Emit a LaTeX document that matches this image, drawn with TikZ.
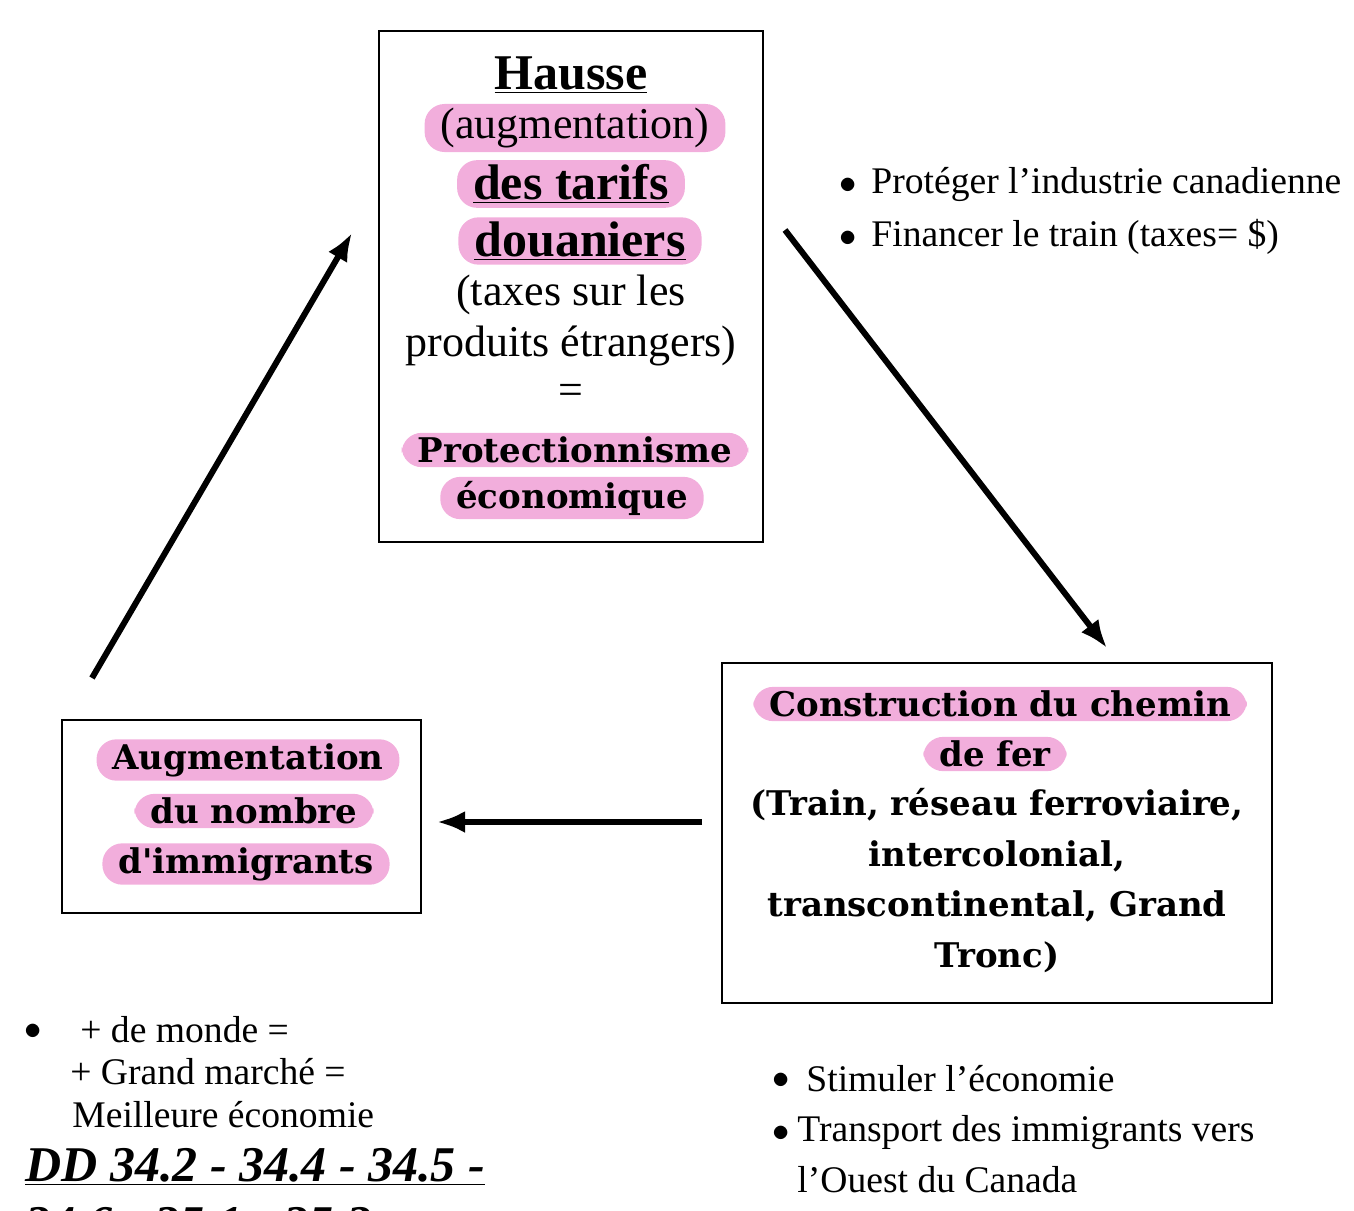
\documentclass[tikz,border=0pt]{standalone}
\usepackage{fontspec}
\setmainfont{Liberation Serif}
\newfontfamily\dvb{DejaVu Serif}
\definecolor{hl}{HTML}{F2AEDC}
\usetikzlibrary{arrows.meta}
\begin{document}
\begin{tikzpicture}[x=0.5pt,y=-0.5pt,
 box/.style={draw,line width=1.2pt},
 arr/.style={line width=3pt,-{Latex[length=14pt,width=11pt]}},
 reg/.style={font=\fontsize{22}{26}\selectfont,inner sep=1pt},
 tb/.style={font=\fontsize{25}{28}\selectfont\bfseries,inner sep=1pt},
 db/.style={font=\fontsize{17}{20}\selectfont\dvb\bfseries,inner sep=1pt},
 h/.style={fill=hl,rounded corners=10pt,inner xsep=8pt,inner ysep=2pt},
 bl/.style={font=\fontsize{18.8}{22}\selectfont,anchor=west,inner sep=0pt},
 bu/.style={font=\fontsize{18.8}{22}\selectfont,inner sep=0pt}]
\useasboundingbox (0,0) rectangle (1354,1210);
\draw[box] (379,31) rectangle (763,542);
\draw[box] (722,663) rectangle (1272,1003);
\draw[box] (62,720) rectangle (421,913);
% top box
\node[tb] (t1) at (571,75) {\underline{Hausse}};
\node[reg,h] (t2) at (575,128) {(augmentation)};
\node[tb,h] (t3) at (571,184) {\underline{des tarifs}};
\node[tb,h] (t4) at (580,241) {\underline{douaniers}};
\node[reg] (t5) at (571,295) {(taxes sur les};
\node[reg] (t6) at (571,346) {produits étrangers)};
\node[reg] (t7) at (571,394) {=};
\node[db,h] (t8) at (575,450) {Protectionnisme};
\node[db,h] (t9) at (572,498) {économique};
% right box
\node[db,h] (r1) at (1000,704) {Construction du chemin};
\node[db,h] (r2) at (995,754) {de fer};
\node[db] (r3) at (997,805) {(Train, réseau ferroviaire,};
\node[db] (r4) at (997,856) {intercolonial,};
\node[db] (r5) at (997,906) {transcontinental, Grand};
\node[db] (r6) at (997,957) {Tronc)};
% left box
\node[db,h] (l1) at (248,760) {Augmentation};
\node[db,h] (l2) at (254,811) {du nombre};
\node[db,h] (l3) at (246,864) {d'immigrants};
% arrows
\coordinate (a1s) at (92,678); \coordinate (a1e) at (352,233);
\coordinate (a2s) at (785,230); \coordinate (a2e) at (1107,648);
\coordinate (a3s) at (702,822); \coordinate (a3e) at (437,822);
\draw[arr] (a1s) -- (a1e);
\draw[arr] (a2s) -- (a2e);
\draw[arr] (a3s) -- (a3e);
% bullets
\node[bu] (k1) at (848,186) {$\bullet$};
\node[bl] (b1) at (871,184) {Protéger l’industrie canadienne};
\node[bu] (k2) at (848,239) {$\bullet$};
\node[bl] (b2) at (871,237) {Financer le train (taxes= \$)};
\node[bu] (k3) at (33,1032) {$\bullet$};
\node[bl] (c1) at (80,1030) {+ de monde =};
\node[bl] (c2) at (70,1072) {+ Grand marché =};
\node[bl] (c3) at (72,1115) {Meilleure économie};
\node[bl,font=\fontsize{25}{28}\selectfont\bfseries\itshape] (dd) at (25,1167) {\underline{DD 34.2 - 34.4 - 34.5 -}};
\node[bl,font=\fontsize{25}{28}\selectfont\bfseries\itshape] (dd2) at (25,1224) {34.6 - 35.1 - 35.2};
\node[bu] (k4) at (781,1081) {$\bullet$};
\node[bl] (d1) at (806,1079) {Stimuler l’économie};
\node[bu] (k5) at (781,1134) {$\bullet$};
\node[bl] (d2) at (797,1132) {Transport des immigrants vers};
\node[bl] (d3) at (797,1180) {l’Ouest du Canada};
\end{tikzpicture}
\end{document}
